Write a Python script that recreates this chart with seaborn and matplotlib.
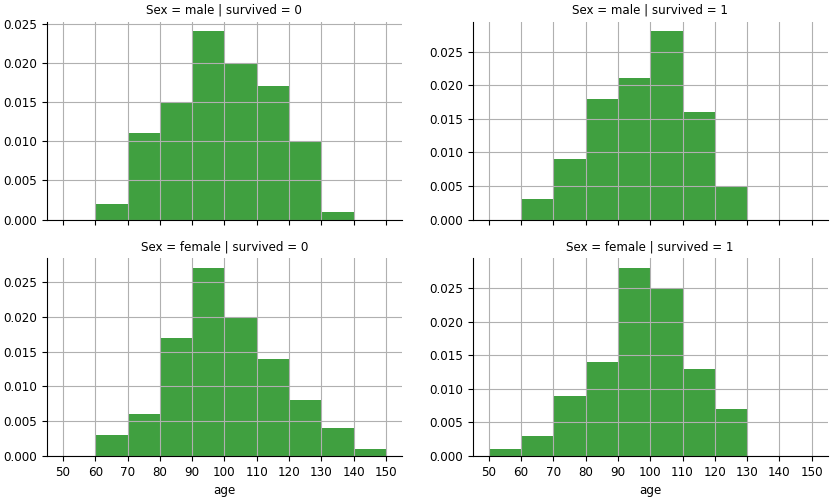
import numpy as np
import pandas as pd
import seaborn as sns
import matplotlib
matplotlib.use('Agg')
import matplotlib.pyplot as plt

# bin edges of the age histogram (width 10)
bin_edges = [50, 60, 70, 80, 90, 100, 110, 120, 130, 140, 150]
# density per bin (x 1000), one list per facet
male_died = [0, 2, 11, 15, 24, 20, 17, 10, 1, 0]
male_survived = [0, 3, 9, 18, 21, 28, 16, 5, 0, 0]
female_died = [0, 3, 6, 17, 27, 20, 14, 8, 4, 1]
female_survived = [1, 3, 9, 14, 28, 25, 13, 7, 0, 0]

sexes = ['male', 'male', 'female', 'female']
survived_flags = [0, 1, 0, 1]
facet_values = [male_died, male_survived, female_died, female_survived]

rows = []
mids = [(a + b) / 2 for a, b in zip(bin_edges[:-1], bin_edges[1:])]
for sex, surv, vals in zip(sexes, survived_flags, facet_values):
    for m, v in zip(mids, vals):
        rows.append({'Sex': sex, 'survived': surv, 'age': m, 'w': v})
df = pd.DataFrame(rows)

plt.rcParams['font.family'] = ['DejaVu Sans']
plt.rcParams['font.size'] = 8.6

g = sns.FacetGrid(df, row='Sex', col='survived', row_order=['male', 'female'],
                  sharex=True, sharey=False, height=2.5, aspect=1.6)
g.map_dataframe(sns.histplot, x='age', weights='w', stat='density',
                bins=bin_edges, color='green', alpha=0.75, linewidth=0)
g.set_titles('Sex = {row_name} | survived = {col_name}')
g.set_axis_labels('age', '')
for ax in g.axes.flat:
    ax.grid(True)
    ax.set_xticks(bin_edges)
    ax.set_xlim(45, 155)

g.figure.set_size_inches(8.37, 4.99)
g.figure.subplots_adjust(left=0.056, right=0.989, top=0.956, bottom=0.086,
                         wspace=0.199, hspace=0.197)
g.figure.savefig('out.png', dpi=100)
